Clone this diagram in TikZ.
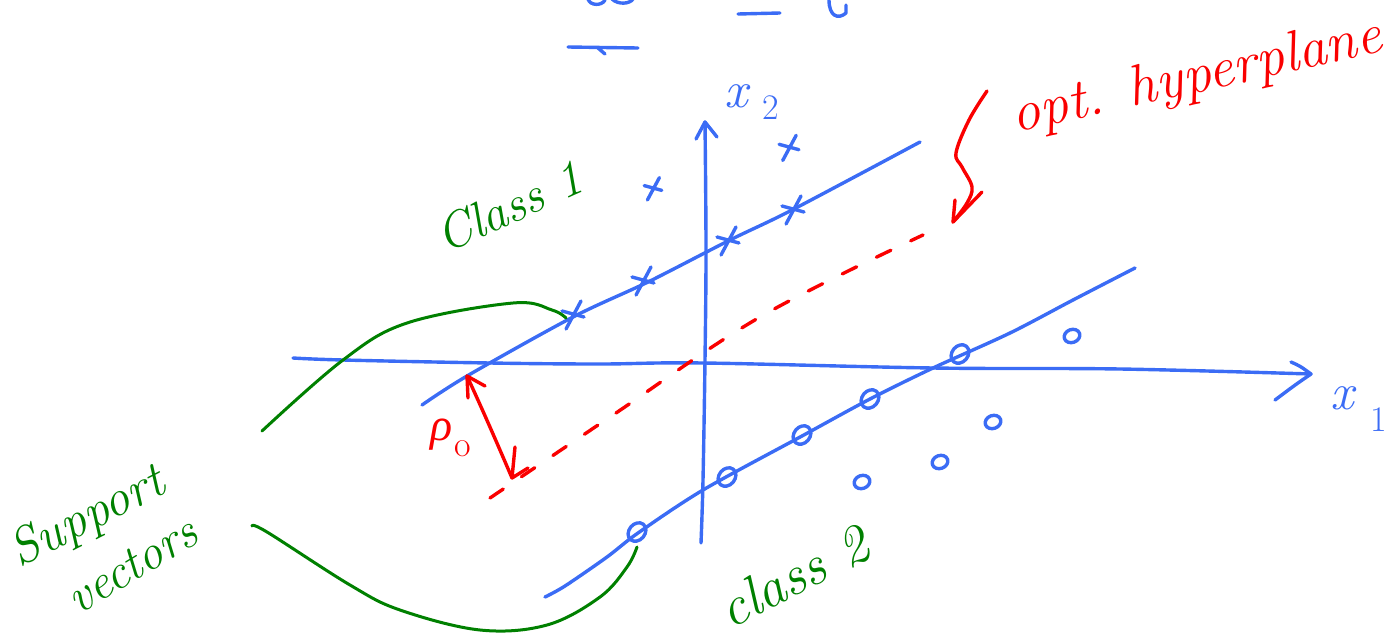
\documentclass[tikz,border=0pt]{standalone}
\usepackage{fontspec}
\newfontfamily\greekfont{Liberation Serif}
\usetikzlibrary{arrows.meta}
\definecolor{penblue}{RGB}{59,108,245}
\definecolor{penred}{RGB}{250,0,0}
\definecolor{pengreen}{RGB}{0,128,0}
\tikzset{
  ink/.style={line width=3.4pt,line cap=round,line join=round},
  bl/.style={ink,draw=penblue},
  rd/.style={ink,draw=penred},
  gr/.style={ink,draw=pengreen,line width=3pt},
  crossmark/.pic={\draw[bl] (-11,-3) -- (11,3) (8,-13) -- (-7,15);},
  ringmark/.pic={\draw[bl,rotate=50] (0,0) ellipse [x radius=10pt,y radius=8pt];},
  smallring/.pic={\draw[bl,rotate=20] (0,0) ellipse [x radius=8pt,y radius=6.5pt];},
  lbl/.style={inner sep=0pt,anchor=base},
  greentext/.style={lbl,text=pengreen},
}
\newcommand\subtext[2]{\raisebox{-#1}{\fontsize{36}{40}\selectfont #2}}
\begin{document}
\begin{tikzpicture}[x=1pt,y=-1pt]
\useasboundingbox (0,0) rectangle (1392,637);

% named points
\coordinate (o1) at (293,358);
\coordinate (x1tip) at (1311,374);
\coordinate (o2) at (701,543);
\coordinate (x2tip) at (705,122);
\coordinate (u0) at (422,405);
\coordinate (u1) at (920,142);
\coordinate (l0) at (545,597);
\coordinate (l1) at (1135,268);
\coordinate (h0) at (490,498);
\coordinate (h1) at (923,235);
\coordinate (m0) at (467,376);
\coordinate (m1) at (512,478);
\coordinate (r0) at (987,91);
\coordinate (r1) at (953,222);
\coordinate (g1a) at (262,431);
\coordinate (g2a) at (252,526);

% top fragments
\draw[bl] (588,-1) .. controls (590,6) and (602,6) .. (605,0);
\draw[bl] (612,-1) .. controls (618,5) and (630,4) .. (633,-1);
\draw[bl] (738,14) -- (780,13);
\draw[bl] (829,0) .. controls (829,16) and (838,20) .. (846,13) -- (846,5);
\draw[bl] (568,47) -- (638,48) (598,48) -- (605,54);

% axes
\draw[bl] plot[smooth,tension=0.6] coordinates {(o1) (343,360) (490,363) (600,364) (703,363) (933,368) (1120,369) (x1tip)};
\draw[bl] (1291,362) .. controls (1300,366) .. (x1tip) .. controls (1295,385) .. (1275,400);
\draw[bl] plot[smooth,tension=0.6] coordinates {(o2) (703,480) (705,360) (706,250) (x2tip)};
\draw[bl] (696,139) -- (x2tip) -- (717,137);

% margin lines
\draw[bl] plot[smooth,tension=0.5] coordinates {(u0) (467,376) (573,317) (648,282) (730,240) (792,210) (u1)};
\draw[bl] plot[smooth,tension=0.5] coordinates {(l0) (565,586) (607,557) (638,533) (703,490) (802,436) (870,399) (933,368) (1010,333) (1073,300) (l1)};

% optimal hyperplane (dashed)
\draw[rd,dash pattern=on 16pt off 22pt] plot[smooth,tension=0.6] coordinates {(h0) (613,415) (760,317) (h1)};

% margin arrow rho
\draw[rd] (m0) .. controls (485,415) and (500,450) .. (m1);
\draw[rd] (468,398) -- (m0) -- (485,386);
\draw[rd] (515,447) -- (m1) -- (528,468);

% callout curve
\draw[rd] plot[smooth,tension=0.6] coordinates {(r0) (969,120) (956,153) (962,167) (972,187) (967,203) (r1)};
\draw[rd] (955,200) -- (r1) -- (982,192);

% class 1 points
\pic at (573,314) {crossmark};
\pic at (643,280) {crossmark};
\pic at (728,240) {crossmark};
\pic at (793,209) {crossmark};
\pic[scale=0.8] at (653,188) {crossmark};
\pic[scale=0.9] at (789,147) {crossmark};

% class 2 points
\pic at (637,532) {ringmark};
\pic at (727,477) {ringmark};
\pic at (802,435) {ringmark};
\pic at (870,399) {ringmark};
\pic at (960,354) {ringmark};
\pic at (1072,336) {smallring};
\pic at (993,422) {smallring};
\pic at (940,462) {smallring};
\pic at (862,482) {smallring};

% support vector pointers
\draw[gr] plot[smooth,tension=0.6] coordinates {(g1a) (343,360) (407,323) (513,303) (552,310) (566,318)};
\draw[gr] plot[smooth,tension=0.6] coordinates {(g2a) (267,532) (350,585) (400,610) (480,630) (547,625) (600,597) (627,567) (637,547)};

% labels
\node[lbl,anchor=base west,text=penblue,font=\fontsize{52}{56}\selectfont] (x2lab) at (724,107) {\textit{x}\kern12pt\subtext{12pt}{2}};
\node[lbl,anchor=base west,text=penblue,font=\fontsize{52}{56}\selectfont] (x1lab) at (1330,409) {\textit{x}\kern14pt\subtext{22pt}{1}};
\node[lbl,anchor=base west,text=penred,font=\fontsize{46}{50}\selectfont] (rholab) at (430,440) {{\greekfont\itshape ρ}\kern2pt\subtext{16pt}{o}};
\node[lbl,rotate=12.4,text=penred,font=\fontsize{57}{60}\selectfont\itshape] (opt) at (1200,92) {opt. hyperplane};
\node[greentext,rotate=24,font=\fontsize{50}{56}\selectfont\itshape] (c1) at (516,222) {Class 1};
\node[greentext,rotate=27,font=\fontsize{56}{62}\selectfont\itshape] (c2) at (802,593) {class 2};
\node[greentext,rotate=27,font=\fontsize{51}{56}\selectfont\itshape] (sup) at (94,530) {Support};
\node[greentext,rotate=31,font=\fontsize{49}{54}\selectfont\itshape] (vec) at (140,578) {vectors};
\end{tikzpicture}
\end{document}
